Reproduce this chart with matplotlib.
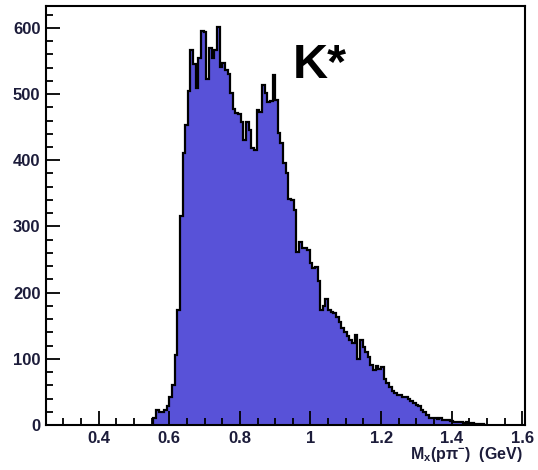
import numpy as np
import matplotlib
matplotlib.use("Agg")
import matplotlib.pyplot as plt
from matplotlib.ticker import MultipleLocator

plt.rcParams['font.family'] = ['Liberation Sans', 'DejaVu Sans']
plt.rcParams['mathtext.fontset'] = 'custom'
plt.rcParams['mathtext.rm'] = 'Liberation Sans:bold'
plt.rcParams['mathtext.it'] = 'Liberation Sans:bold'
plt.rcParams['mathtext.bf'] = 'Liberation Sans:bold'

# histogram M_x(p pi-), bins of 0.0075 GeV starting at 0.555
bin_start = 0.555
bin_width = 0.0075
counts = [10, 23, 20, 20, 23, 29, 43, 60, 106, 174,
          316, 411, 453, 505, 566, 546, 509, 554, 595, 593,
          523, 570, 555, 567, 602, 541, 547, 536, 531, 501,
          478, 471, 470, 458, 430, 458, 446, 418, 415, 476,
          473, 514, 501, 488, 490, 529, 491, 441, 426, 396,
          380, 342, 340, 325, 262, 277, 268, 267, 265, 244,
          237, 239, 218, 174, 180, 191, 174, 171, 169, 163,
          156, 146, 140, 134, 128, 124, 136, 100, 128, 118,
          110, 103, 91, 83, 89, 85, 88, 70, 63, 58,
          52, 48, 45, 46, 42, 43, 40, 37, 33, 30,
          28, 23, 19, 15, 11, 10, 10, 9, 10, 8,
          7, 7, 6, 5, 5, 4, 4, 3, 4, 3,
          3, 2, 2, 1, 1, 0]
edges = bin_start + bin_width * np.arange(len(counts) + 1)

fig = plt.figure(figsize=(5.38, 4.70), dpi=100)
ax = fig.add_axes([46 / 538, 45 / 470, 479 / 538, 419 / 470])

ax.stairs(counts, edges, fill=True, color='#5852d8', linewidth=0)
ax.stairs(counts, edges, color='black', linewidth=1.6, baseline=0)

ax.set_xlim(0.2507, 1.6077)
ax.set_ylim(0, 633)

ax.xaxis.set_major_locator(MultipleLocator(0.2))
ax.xaxis.set_minor_locator(MultipleLocator(0.05))
ax.yaxis.set_major_locator(MultipleLocator(100))
ax.yaxis.set_minor_locator(MultipleLocator(20))
ax.set_xticks([0.4, 0.6, 0.8, 1.0, 1.2, 1.4, 1.6])
ax.set_xticklabels(['0.4', '0.6', '0.8', '1', '1.2', '1.4', '1.6'])

lab_color = '#1c1c3a'
ax.tick_params(which='both', direction='in', top=False, right=False,
               width=1.3, color='black')
ax.tick_params(which='major', length=10)
ax.tick_params(which='minor', length=5)
ax.tick_params(axis='x', pad=4)
ax.tick_params(axis='y', pad=4)
for lab in ax.get_xticklabels() + ax.get_yticklabels():
    lab.set_fontsize(12)
    lab.set_fontweight('bold')
    lab.set_color(lab_color)

for sp in ax.spines.values():
    sp.set_linewidth(1.5)

ax.text(0.95, 524, 'K*', fontsize=35, fontweight='bold', ha='left',
        va='baseline', color='black')

fig.text(523 / 538, 1 - 459 / 470, r'$\mathregular{M_x(p\pi^{-})}$  (GeV)',
         ha='right', va='baseline', fontsize=11.5, fontweight='bold',
         color=lab_color)

fig.savefig('out.png', dpi=100)
